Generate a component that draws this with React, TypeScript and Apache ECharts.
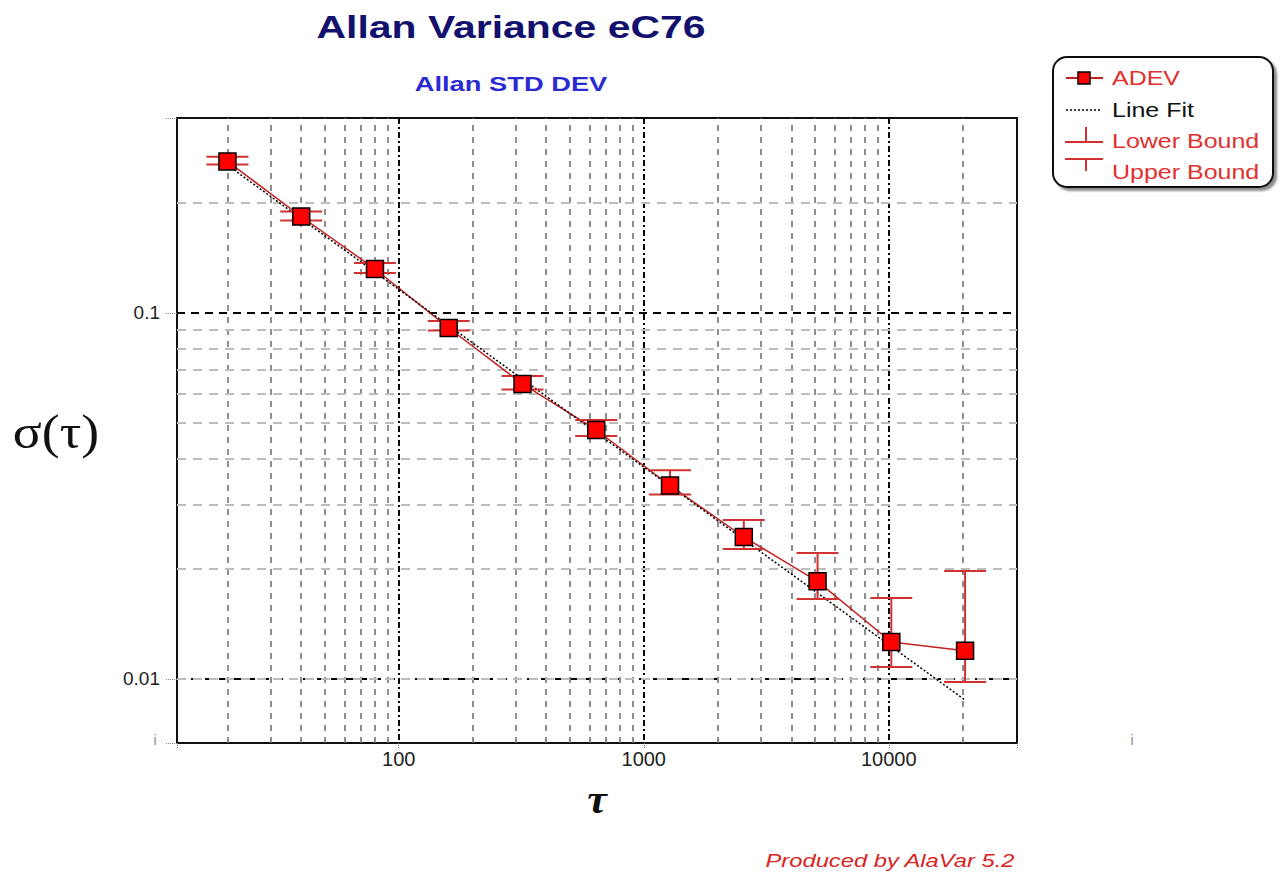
import React, { useEffect, useRef } from 'react';
import * as echarts from 'echarts';

// ---- data ----
const tau = [20, 40, 80, 160, 320, 640, 1280, 2560, 5120, 10240, 20480];
const adev = [0.2594, 0.1835, 0.1319, 0.091, 0.064, 0.0479, 0.03378, 0.02443, 0.01848, 0.01262, 0.01195];
const lowerBound = [0.2545, 0.1789, 0.1286, 0.0896, 0.0618, 0.0461, 0.0319, 0.02265, 0.01654, 0.01078, 0.00981];
const upperBound = [0.2673, 0.1894, 0.137, 0.0951, 0.0673, 0.051, 0.0372, 0.0272, 0.0221, 0.01665, 0.01972];
const fitTau = [20, 20480];
const fitValues = [0.2535, 0.00876];
const xMinorGrid = [20, 30, 40, 50, 60, 70, 80, 90, 200, 300, 400, 500, 600, 700, 800, 900, 2000, 3000, 4000, 5000, 6000, 7000, 8000, 9000, 20000];
const yMinorGrid = [0.2, 0.09, 0.08, 0.07, 0.06, 0.05, 0.04, 0.03, 0.02, 0.009];
const xRange = [12.45, 33360];
const yRange = [0.006685, 0.341];

const titleText = 'Allan Variance eC76';
const subtitleText = 'Allan STD DEV';
const footerText = 'Produced by AlaVar 5.2';
const legendNames = ['ADEV', 'Line Fit', 'Lower Bound', 'Upper Bound'];

const RED = '#c42020';
const BAR_RED = '#d03232';
const SANS = '"Liberation Sans", Arial, sans-serif';
const SERIF = '"Liberation Serif", "Times New Roman", serif';

const isPow10 = (v: number) => {
  const e = Math.log10(v);
  return Math.abs(e - Math.round(e)) < 1e-6;
};

export default function App() {
  const ref = useRef<HTMLDivElement>(null);

  useEffect(() => {
    if (!ref.current) return;
    const chart = echarts.init(ref.current, null, { renderer: 'svg' });

    const adevData = tau.map((t, i) => [t, adev[i]]);
    const barData = tau.map((t, i) => [t, lowerBound[i], upperBound[i]]);
    const fitData = fitTau.map((t, i) => [t, fitValues[i]]);

    const txt = (text: string, x: number, y: number, o: any = {}) => ({
      type: 'text',
      x,
      y,
      scaleX: o.scaleX ?? 1.25,
      z: 100,
      silent: true,
      style: {
        text,
        fill: o.fill ?? '#000',
        fontSize: o.fontSize ?? 20,
        fontWeight: o.fontWeight ?? 'normal',
        fontStyle: o.fontStyle ?? 'normal',
        fontFamily: o.fontFamily ?? SANS,
        align: o.align ?? 'left',
        verticalAlign: 'middle',
      },
    });

    const option: any = {
      animation: false,
      backgroundColor: '#fff',
      grid: {
        left: 177,
        top: 118,
        right: 265,
        bottom: 134,
        show: true,
        borderColor: '#111',
        borderWidth: 2,
        backgroundColor: 'transparent',
      },
      xAxis: {
        type: 'log',
        logBase: 10,
        min: xRange[0],
        max: xRange[1],
        axisLine: { show: false },
        axisTick: { show: true, length: 5, lineStyle: { color: '#777', type: 'dotted', width: 1 } },
        axisLabel: {
          margin: 6,
          color: '#222',
          fontSize: 20,
          fontFamily: SANS,
          formatter: (v: number) => (isPow10(v) ? String(Math.round(v)) : ''),
        },
        splitLine: {
          show: true,
          showMinLine: false,
          showMaxLine: false,
          lineStyle: { color: '#000', width: 2, type: [6, 3, 2, 3] },
        },
      },
      yAxis: {
        type: 'log',
        logBase: 10,
        min: yRange[0],
        max: yRange[1],
        axisLine: { show: false },
        axisTick: { show: true, length: 12, lineStyle: { color: '#888', type: 'dotted', width: 1 } },
        axisLabel: {
          margin: 17,
          color: '#222',
          fontSize: 19,
          fontFamily: SANS,
          formatter: (v: number) => {
            if (!isPow10(v)) return '';
            const e = Math.round(Math.log10(v));
            return e < 0 ? Math.pow(10, e).toFixed(-e) : String(Math.round(v));
          },
        },
        splitLine: {
          show: true,
          showMinLine: false,
          showMaxLine: false,
          lineStyle: { color: '#000', width: 2, type: [8, 6] },
        },
      },
      series: [
        {
          name: 'grid-minor',
          type: 'line',
          data: [],
          silent: true,
          markLine: {
            z: 1,
            silent: true,
            symbol: ['none', 'none'],
            label: { show: false },
            emphasis: { disabled: true },
            data: [
              ...xMinorGrid.map((v) => ({
                xAxis: v,
                lineStyle: { color: '#6a6a6a', width: 1.5, type: [6, 6] },
              })),
              ...yMinorGrid.map((v) => ({
                yAxis: v,
                lineStyle: { color: '#bdbdbd', width: 2, type: [9, 7] },
              })),
            ],
          },
        },
        {
          name: 'ADEV',
          type: 'line',
          z: 3,
          data: adevData,
          showSymbol: false,
          symbol: 'none',
          lineStyle: { color: RED, width: 1.5 },
        },
        {
          name: 'Line Fit',
          type: 'line',
          z: 4,
          data: fitData,
          symbol: 'none',
          lineStyle: { color: '#000', width: 1.5, type: [2, 2] },
        },
        {
          name: 'Bounds',
          type: 'custom',
          z: 5,
          data: barData,
          encode: { x: 0, y: [1, 2] },
          renderItem: (params: any, api: any) => {
            const x = api.value(0);
            const lo = api.coord([x, api.value(1)]);
            const hi = api.coord([x, api.value(2)]);
            const hw = 21;
            const style = { stroke: BAR_RED, lineWidth: 2 };
            return {
              type: 'group',
              children: [
                { type: 'line', shape: { x1: hi[0], y1: hi[1], x2: lo[0], y2: lo[1] }, style },
                { type: 'line', shape: { x1: hi[0] - hw, y1: hi[1], x2: hi[0] + hw, y2: hi[1] }, style },
                { type: 'line', shape: { x1: lo[0] - hw, y1: lo[1], x2: lo[0] + hw, y2: lo[1] }, style },
              ],
            };
          },
        },
        {
          name: 'ADEV points',
          type: 'scatter',
          z: 6,
          data: adevData,
          symbol: 'rect',
          symbolSize: 17,
          itemStyle: { color: '#ff0000', borderColor: '#000', borderWidth: 1.5, opacity: 1 },
        },
      ],
      graphic: [
        txt(titleText, 511, 27, { fontSize: 31, fontWeight: 'bold', fill: '#12126e', align: 'center', scaleX: 1.32 }),
        txt(subtitleText, 511, 84, { fontSize: 21, fontWeight: 'bold', fill: '#2a2ad2', align: 'center', scaleX: 1.3 }),
        txt('σ(τ)', 56, 432, { fontSize: 48, fontFamily: SERIF, fill: '#111', align: 'center', scaleX: 1.12 }),
        txt('τ', 597, 800, { fontSize: 40, fontFamily: SERIF, fontStyle: 'italic', fontWeight: 'bold', fill: '#111', align: 'center', scaleX: 1.1 }),
        txt(footerText, 890, 861, { fontSize: 19, fontStyle: 'italic', fill: '#d82424', align: 'center' }),
        txt('i', 155, 740, { fontSize: 14, fill: '#888', align: 'center', scaleX: 1 }),
        txt('i', 1132, 740, { fontSize: 14, fill: '#888', align: 'center', scaleX: 1 }),
        // legend box
        {
          type: 'rect',
          z: 90,
          silent: true,
          shape: { x: 1053, y: 57, width: 220, height: 130, r: 14 },
          style: {
            fill: '#fff',
            stroke: '#111',
            lineWidth: 2,
            shadowColor: 'rgba(0,0,0,0.45)',
            shadowOffsetX: 3,
            shadowOffsetY: 3,
            shadowBlur: 2,
          },
        },
        // ADEV symbol
        { type: 'line', z: 95, silent: true, shape: { x1: 1066, y1: 78, x2: 1103, y2: 78 }, style: { stroke: RED, lineWidth: 2 } },
        { type: 'rect', z: 96, silent: true, shape: { x: 1078, y: 72, width: 12, height: 12 }, style: { fill: '#ff0000', stroke: '#000', lineWidth: 1.5 } },
        // Line fit symbol
        { type: 'line', z: 95, silent: true, shape: { x1: 1066, y1: 110, x2: 1101, y2: 110 }, style: { stroke: '#000', lineWidth: 1.5, lineDash: [2, 2] } },
        // bounds symbol
        { type: 'line', z: 95, silent: true, shape: { x1: 1065, y1: 142, x2: 1103, y2: 142 }, style: { stroke: BAR_RED, lineWidth: 2 } },
        { type: 'line', z: 95, silent: true, shape: { x1: 1086, y1: 127, x2: 1086, y2: 142 }, style: { stroke: BAR_RED, lineWidth: 2 } },
        { type: 'line', z: 95, silent: true, shape: { x1: 1065, y1: 159, x2: 1103, y2: 159 }, style: { stroke: BAR_RED, lineWidth: 2 } },
        { type: 'line', z: 95, silent: true, shape: { x1: 1086, y1: 159, x2: 1086, y2: 171 }, style: { stroke: BAR_RED, lineWidth: 2 } },
        txt(legendNames[0], 1112, 78, { fill: '#e03030' }),
        txt(legendNames[1], 1112, 110, { fill: '#111' }),
        txt(legendNames[2], 1112, 141, { fill: '#e03030' }),
        txt(legendNames[3], 1112, 172, { fill: '#e03030' }),
      ],
    };

    chart.setOption(option);
    return () => chart.dispose();
  }, []);

  return (
    <div
      ref={ref}
      style={{ position: 'fixed', left: 0, top: 0, width: 1282, height: 877, background: '#fff' }}
    />
  );
}
